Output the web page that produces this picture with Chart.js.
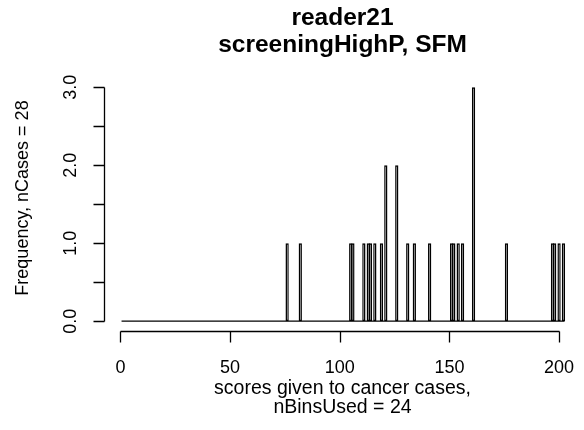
<!DOCTYPE html>
<html>
<head>
<meta charset="utf-8">
<script src="https://cdn.jsdelivr.net/npm/chart.js@4"></script>
<style>
  html, body { margin: 0; padding: 0; background: #fff; }
  #wrap { width: 584px; height: 430px; }
</style>
</head>
<body>
<div id="wrap"><canvas id="histChart" width="584" height="430"></canvas></div>
<script>
const titleLines = ['reader21', 'screeningHighP, SFM'];
const xTitleLines = ['scores given to cancer cases,', 'nBinsUsed = 24'];
const yTitle = 'Frequency, nCases = 28';

// bins are 1 wide, centred on the integer scores firstBin..lastBin
const firstBin = 1;
const lastBin = 202;
const usedBins = [76, 82, 105, 106, 111, 113, 114, 116, 119, 121, 126, 131, 134, 141, 151, 152, 154, 156, 161, 176, 197, 198, 200, 202];
const usedCounts = [1, 1, 1, 1, 1, 1, 1, 1, 1, 2, 2, 1, 1, 1, 1, 1, 1, 1, 3, 1, 1, 1, 1, 1];

const xTicks = [0, 50, 100, 150, 200];
const yTicks = [0, 0.5, 1, 1.5, 2, 2.5, 3];
const yTickLabels = ['0.0', '', '1.0', '', '2.0', '', '3.0'];

const FONT = '"Liberation Sans", Arial, Helvetica, sans-serif';

// every bin, empty ones included (R draws them as a flat line)
const barData = [];
for (let k = firstBin; k <= lastBin; k++) {
  const i = usedBins.indexOf(k);
  barData.push({ x: k, y: i >= 0 ? usedCounts[i] : 0 });
}
const baseLine = [{ x: firstBin - 0.5, y: 0 }, { x: lastBin + 0.5, y: 0 }];

// R style axes: detached from the bars, line only from first to last tick
const rAxes = {
  id: 'rAxes',
  afterDraw(chart) {
    const { ctx, chartArea, scales } = chart;
    const x = scales.x, y = scales.y;
    const tickLen = 11;
    ctx.save();
    ctx.strokeStyle = '#000';
    ctx.fillStyle = '#000';
    ctx.lineWidth = 1.3;

    const ay = Math.round(chartArea.bottom) + 0.5;
    ctx.beginPath();
    ctx.moveTo(Math.round(x.getPixelForValue(xTicks[0])) + 0.5, ay);
    ctx.lineTo(Math.round(x.getPixelForValue(xTicks[xTicks.length - 1])) + 0.5, ay);
    xTicks.forEach(v => {
      const px = Math.round(x.getPixelForValue(v)) + 0.5;
      ctx.moveTo(px, ay);
      ctx.lineTo(px, ay + tickLen);
    });
    const ax = Math.round(chartArea.left) + 0.5;
    ctx.moveTo(ax, Math.round(y.getPixelForValue(yTicks[0])) + 0.5);
    ctx.lineTo(ax, Math.round(y.getPixelForValue(yTicks[yTicks.length - 1])) + 0.5);
    yTicks.forEach(v => {
      const py = Math.round(y.getPixelForValue(v)) + 0.5;
      ctx.moveTo(ax, py);
      ctx.lineTo(ax - tickLen, py);
    });
    ctx.stroke();

    ctx.font = '18px ' + FONT;
    ctx.textAlign = 'center';
    ctx.textBaseline = 'middle';
    xTicks.forEach(v => ctx.fillText(String(v), x.getPixelForValue(v), 368));
    yTicks.forEach((v, i) => {
      if (!yTickLabels[i]) return;
      ctx.save();
      ctx.translate(71, y.getPixelForValue(v));
      ctx.rotate(-Math.PI / 2);
      ctx.fillText(yTickLabels[i], 0, 0);
      ctx.restore();
    });

    ctx.save();
    ctx.translate(23, 198);
    ctx.rotate(-Math.PI / 2);
    ctx.fillText(yTitle, 0, 0);
    ctx.restore();

    const cx = (chartArea.left + chartArea.right) / 2;
    ctx.font = '19.5px ' + FONT;
    ctx.fillText(xTitleLines[0], cx, 389);
    ctx.fillText(xTitleLines[1], cx, 408);

    ctx.font = 'bold 24.5px ' + FONT;
    ctx.fillText(titleLines[0], cx, 18);
    ctx.fillText(titleLines[1], cx, 45);
    ctx.restore();
  }
};

new Chart(document.getElementById('histChart'), {
  type: 'bar',
  data: {
    datasets: [
      {
        type: 'bar',
        data: barData,
        backgroundColor: '#ffffff',
        borderColor: '#000000',
        borderWidth: 1.5,
        borderSkipped: false,
        barPercentage: 1.5,
        categoryPercentage: 1
      },
      {
        type: 'line',
        data: baseLine,
        borderColor: '#000000',
        borderWidth: 1.3,
        pointRadius: 0
      }
    ]
  },
  options: {
    responsive: false,
    animation: false,
    devicePixelRatio: 1,
    layout: { padding: { left: 104, top: 78, right: 3, bottom: 99.5 } },
    plugins: { legend: { display: false }, tooltip: { enabled: false }, title: { display: false } },
    scales: {
      x: { type: 'linear', min: -7.5, max: 210, offset: false, display: false },
      y: { type: 'linear', min: -0.12, max: 3.12, display: false }
    }
  },
  plugins: [rAxes]
});
</script>
</body>
</html>
